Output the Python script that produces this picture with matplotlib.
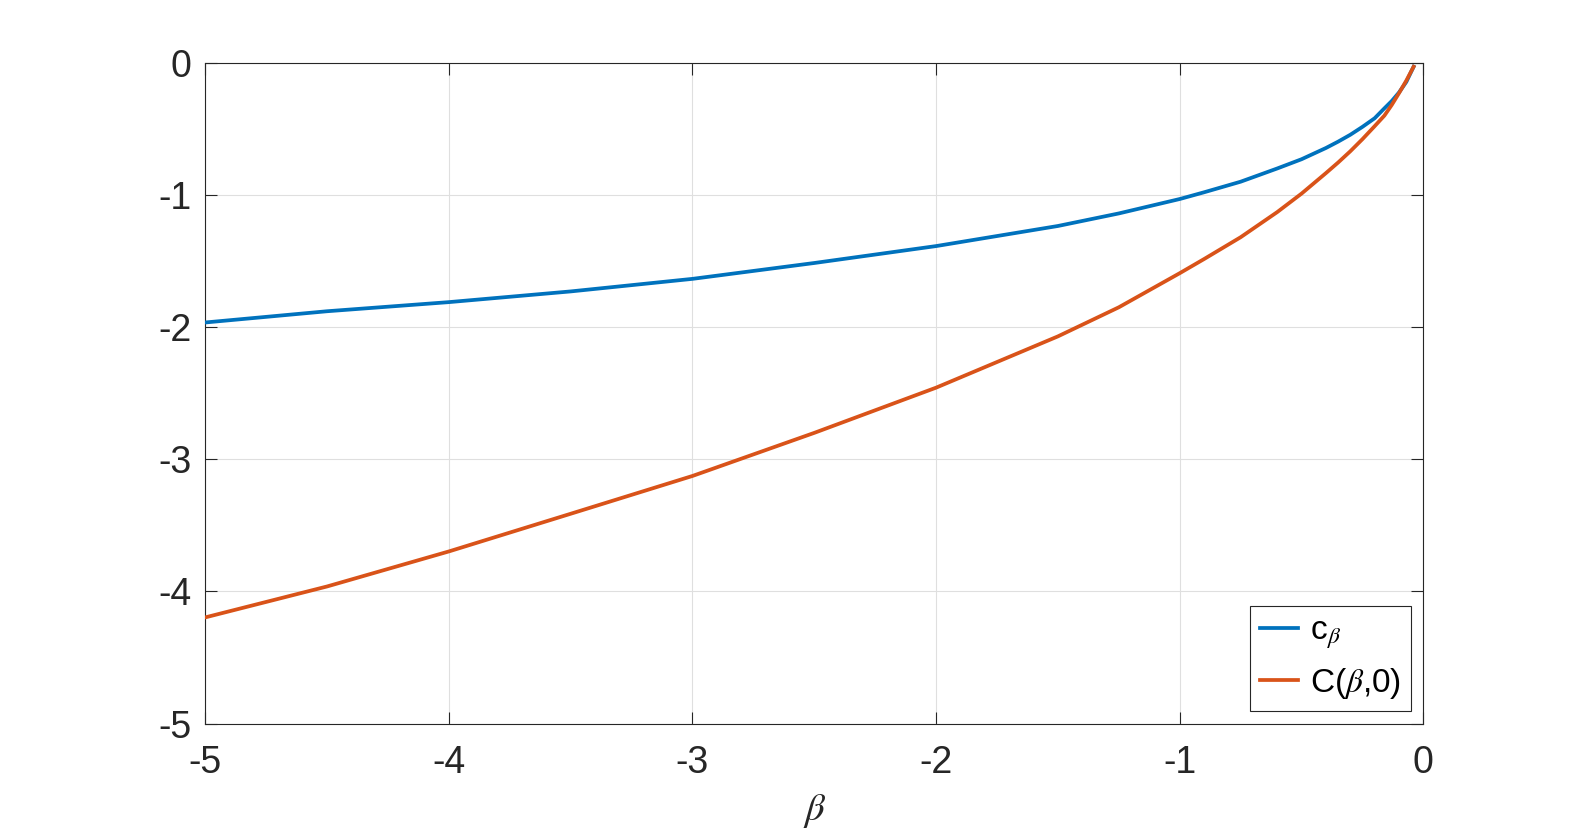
import numpy as np
import matplotlib
matplotlib.use('Agg')
import matplotlib.pyplot as plt

# values
beta = [-5, -4.5, -4, -3.5, -3, -2.5, -2, -1.5, -1.25, -1, -0.9, -0.75,
        -0.6, -0.5, -0.4, -0.35, -0.3, -0.25, -0.2, -0.16, -0.13, -0.1,
        -0.07, -0.04]
c_beta = [-1.965, -1.880, -1.811, -1.730, -1.635, -1.515, -1.387, -1.235,
          -1.14, -1.031, -0.98, -0.90, -0.80, -0.730, -0.645, -0.597,
          -0.545, -0.485, -0.42, -0.345, -0.29, -0.225, -0.145, -0.03]
C_beta0 = [-4.196, -3.962, -3.697, -3.412, -3.126, -2.80, -2.458, -2.07,
           -1.85, -1.592, -1.485, -1.32, -1.13, -0.990, -0.835, -0.755,
           -0.67, -0.578, -0.48, -0.40, -0.32, -0.23, -0.135, -0.03]
xticks = [-5, -4, -3, -2, -1, 0]
yticks = [-5, -4, -3, -2, -1, 0]
labels = [r'c$_{\beta}$', r'C($\beta$,0)']

plt.rcParams['font.family'] = ['Liberation Sans', 'DejaVu Sans']
plt.rcParams['mathtext.fontset'] = 'stix'

axcol = '#262626'
fig = plt.figure(figsize=(15.74, 8.32), dpi=100)
ax = fig.add_axes([0.1304, 0.1302, 0.7739, 0.7944])

ax.plot(beta, c_beta, color='#0072BD', lw=2.7, label=labels[0], zorder=3)
ax.plot(beta, C_beta0, color='#D95319', lw=2.7, label=labels[1], zorder=3)

ax.set_xlim(-5, 0)
ax.set_ylim(-5, 0)
ax.set_xticks(xticks)
ax.set_yticks(yticks)
ax.set_xticklabels([str(t) for t in xticks])
ax.set_yticklabels([str(t) for t in yticks])
ax.grid(True, color='#dfdfdf', lw=0.8)
ax.set_axisbelow(True)

ax.tick_params(direction='in', length=8.6, width=0.8, color=axcol,
               labelcolor=axcol, labelsize=27, top=True, right=True)
ax.tick_params(axis='x', pad=15)
ax.tick_params(axis='y', pad=10)
for s in ax.spines.values():
    s.set_color(axcol)
    s.set_linewidth(0.8)

ax.set_xlabel(r'$\beta$', fontsize=28, color=axcol, labelpad=8)

leg = ax.legend(loc='lower right', fontsize=24, fancybox=False,
                framealpha=1, edgecolor=axcol, borderaxespad=0.38,
                handlelength=1.15, handletextpad=0.35, borderpad=0.3,
                labelspacing=0.45)
leg.get_frame().set_linewidth(0.8)

fig.savefig('out.png', dpi=100)
